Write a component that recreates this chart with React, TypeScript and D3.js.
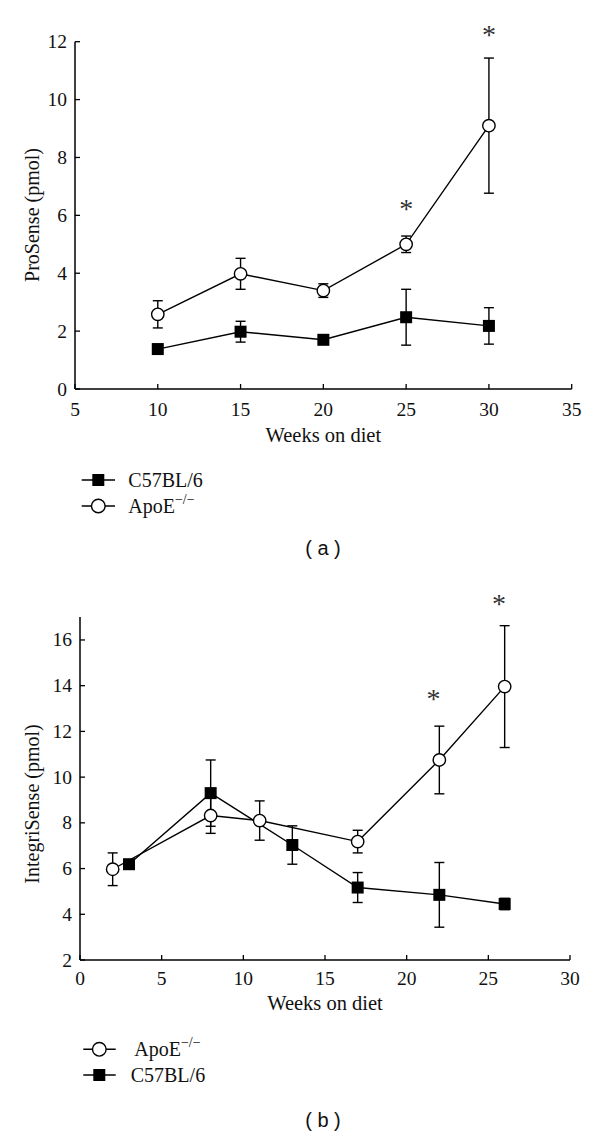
import React from "react";
import * as d3 from "d3";

// ---------- Panel (a): ProSense ----------
const weeksA = [10, 15, 20, 25, 30];
const c57A = [1.38, 1.98, 1.7, 2.48, 2.18];
const c57AErr = [0.1, 0.36, 0.1, 0.965, 0.63];
const apoeA = [2.58, 3.98, 3.4, 5.0, 9.1];
const apoeAErr = [0.47, 0.535, 0.235, 0.285, 2.335];
const sigAx = [25, 30];
const sigAy = [6.36, 12.36];
const xTicksA = [5, 10, 15, 20, 25, 30, 35];
const yTicksA = [0, 2, 4, 6, 8, 10, 12];

// ---------- Panel (b): IntegriSense ----------
const apoeWeeksB = [2, 8, 11, 17, 22, 26];
const apoeB = [5.97, 8.32, 8.1, 7.18, 10.75, 13.96];
const apoeBErr = [0.715, 0.78, 0.86, 0.495, 1.48, 2.665];
const c57WeeksB = [3, 8, 13, 17, 22, 26];
const c57B = [6.19, 9.3, 7.03, 5.17, 4.85, 4.45];
const c57BErr = [0.15, 1.45, 0.84, 0.655, 1.415, 0.25];
const sigBx = [21.65, 25.65];
const sigBy = [13.59, 17.75];
const xTicksB = [0, 5, 10, 15, 20, 25, 30];
const yTicksB = [2, 4, 6, 8, 10, 12, 14, 16];

const SERIF = "'Liberation Serif', 'Times New Roman', serif";
const SANS = "'Liberation Sans', Arial, sans-serif";

type Series = { kind: "square" | "circle"; xs: number[]; ys: number[]; err: number[] };

function Marker({ kind, cx, cy, r = 6.2 }: { kind: string; cx: number; cy: number; r?: number }) {
  if (kind === "square") {
    const s = 12;
    return <rect x={cx - s / 2} y={cy - s / 2} width={s} height={s} fill="#000" />;
  }
  return <circle cx={cx} cy={cy} r={r} fill="#fff" stroke="#000" strokeWidth={1.4} />;
}

function ApoeLabel({ x, y }: { x: number; y: number }) {
  return (
    <text x={x} y={y} dominantBaseline="central" fontFamily={SERIF} fontSize={20} fill="#111">
      ApoE
      <tspan fontSize={14} dy={-7}>−/−</tspan>
    </text>
  );
}

function Panel(props: {
  x: d3.ScaleLinear<number, number>;
  y: d3.ScaleLinear<number, number>;
  xTicks: number[];
  yTicks: number[];
  series: Series[];
  sigX: number[];
  sigY: number[];
  yLabel: string;
  yLabelCenter: number;
  xLabelY: number;
  xTickY: number;
}) {
  const { x, y, xTicks, yTicks, series, sigX, sigY } = props;
  const [x0, x1] = x.range();
  const [y0, y1] = y.range();
  const line = d3.line<[number, number]>().x((d) => x(d[0])).y((d) => y(d[1]));
  return (
    <g>
      {/* axes */}
      <line x1={x0} x2={x1} y1={y0} y2={y0} stroke="#000" strokeWidth={1.5} />
      <line x1={x0} x2={x0} y1={y0} y2={y1} stroke="#000" strokeWidth={1.5} />
      {xTicks.map((t) => (
        <g key={"xt" + t}>
          <line x1={x(t)} x2={x(t)} y1={y0} y2={y0 - 5} stroke="#000" strokeWidth={1.3} />
          <text x={x(t)} y={props.xTickY} textAnchor="middle" dominantBaseline="central" fontFamily={SERIF} fontSize={19.5} fill="#111">
            {t}
          </text>
        </g>
      ))}
      {yTicks.map((t) => (
        <g key={"yt" + t}>
          <line x1={x0} x2={x0 + 5} y1={y(t)} y2={y(t)} stroke="#000" strokeWidth={1.3} />
          <text x={x0 - 8} y={y(t)} textAnchor="end" dominantBaseline="central" fontFamily={SERIF} fontSize={19.5} fill="#111">
            {t}
          </text>
        </g>
      ))}
      <text x={(x0 + x1) / 2} y={props.xLabelY} textAnchor="middle" dominantBaseline="central" fontFamily={SERIF} fontSize={20.5} fill="#111">
        Weeks on diet
      </text>
      <text
        transform={`translate(32,${props.yLabelCenter}) rotate(-90)`}
        textAnchor="middle"
        dominantBaseline="central"
        fontFamily={SERIF}
        fontSize={20}
        fill="#111"
      >
        {props.yLabel}
      </text>
      {/* error bars */}
      {series.map((s, si) =>
        s.xs.map((xv, i) => {
          const cx = x(xv);
          const top = y(s.ys[i] + s.err[i]);
          const bot = y(s.ys[i] - s.err[i]);
          return (
            <g key={`e${si}-${i}`} stroke="#000" strokeWidth={1.4}>
              <line x1={cx} x2={cx} y1={top} y2={bot} />
              <line x1={cx - 5} x2={cx + 5} y1={top} y2={top} />
              <line x1={cx - 5} x2={cx + 5} y1={bot} y2={bot} />
            </g>
          );
        })
      )}
      {/* lines */}
      {series.map((s, si) => (
        <path
          key={"l" + si}
          d={line(s.xs.map((xv, i) => [xv, s.ys[i]] as [number, number])) || ""}
          fill="none"
          stroke="#000"
          strokeWidth={1.4}
        />
      ))}
      {/* markers */}
      {series.map((s, si) =>
        s.xs.map((xv, i) => <Marker key={`m${si}-${i}`} kind={s.kind} cx={x(xv)} cy={y(s.ys[i])} />)
      )}
      {/* significance */}
      {sigX.map((sx, i) => (
        <text key={"s" + i} x={x(sx)} y={y(sigY[i]) + 13} textAnchor="middle" fontFamily={SERIF} fontSize={28} fill="#333">
          *
        </text>
      ))}
    </g>
  );
}

export default function App() {
  const xA = d3.scaleLinear().domain([5, 35]).range([75, 571.7]);
  const yA = d3.scaleLinear().domain([0, 12]).range([389, 41.7]);
  const xB = d3.scaleLinear().domain([0, 30]).range([80, 570]);
  const yB = d3.scaleLinear().domain([2, 17]).range([960, 617.1]);

  const seriesA: Series[] = [
    { kind: "square", xs: weeksA, ys: c57A, err: c57AErr },
    { kind: "circle", xs: weeksA, ys: apoeA, err: apoeAErr },
  ];
  const seriesB: Series[] = [
    { kind: "circle", xs: apoeWeeksB, ys: apoeB, err: apoeBErr },
    { kind: "square", xs: c57WeeksB, ys: c57B, err: c57BErr },
  ];

  return (
    <svg
      width={600}
      height={1136}
      style={{ position: "absolute", left: 0, top: 0, background: "#fff" }}
    >
      <rect width={600} height={1136} fill="#fff" />
      <Panel
        x={xA}
        y={yA}
        xTicks={xTicksA}
        yTicks={yTicksA}
        series={seriesA}
        sigX={sigAx}
        sigY={sigAy}
        yLabel="ProSense (pmol)"
        yLabelCenter={215}
        xLabelY={435}
        xTickY={409.5}
      />
      {/* legend a */}
      <g>
        <line x1={81.7} x2={115} y1={480} y2={480} stroke="#000" strokeWidth={1.4} />
        <Marker kind="square" cx={98.3} cy={480} />
        <text x={128.3} y={480} dominantBaseline="central" fontFamily={SERIF} fontSize={20} fill="#111">
          C57BL/6
        </text>
        <line x1={81.7} x2={115} y1={506} y2={506} stroke="#000" strokeWidth={1.4} />
        <Marker kind="circle" cx={98.3} cy={506} r={6.8} />
        <ApoeLabel x={128.3} y={506} />
      </g>
      <text x={323} y={548} textAnchor="middle" dominantBaseline="central" fontFamily={SANS} fontSize={20} fill="#111">
        ( a )
      </text>

      <Panel
        x={xB}
        y={yB}
        xTicks={xTicksB}
        yTicks={yTicksB}
        series={seriesB}
        sigX={sigBx}
        sigY={sigBy}
        yLabel="IntegriSense (pmol)"
        yLabelCenter={804}
        xLabelY={1003.3}
        xTickY={978.3}
      />
      {/* legend b */}
      <g>
        <line x1={83.3} x2={115.7} y1={1049.3} y2={1049.3} stroke="#000" strokeWidth={1.4} />
        <Marker kind="circle" cx={99.3} cy={1049.3} r={6.8} />
        <ApoeLabel x={134.3} y={1049.3} />
        <line x1={83.3} x2={115.7} y1={1075} y2={1075} stroke="#000" strokeWidth={1.4} />
        <Marker kind="square" cx={99.3} cy={1075} />
        <text x={130.7} y={1075} dominantBaseline="central" fontFamily={SERIF} fontSize={20} fill="#111">
          C57BL/6
        </text>
      </g>
      <text x={323} y={1120} textAnchor="middle" dominantBaseline="central" fontFamily={SANS} fontSize={20} fill="#111">
        ( b )
      </text>
    </svg>
  );
}
